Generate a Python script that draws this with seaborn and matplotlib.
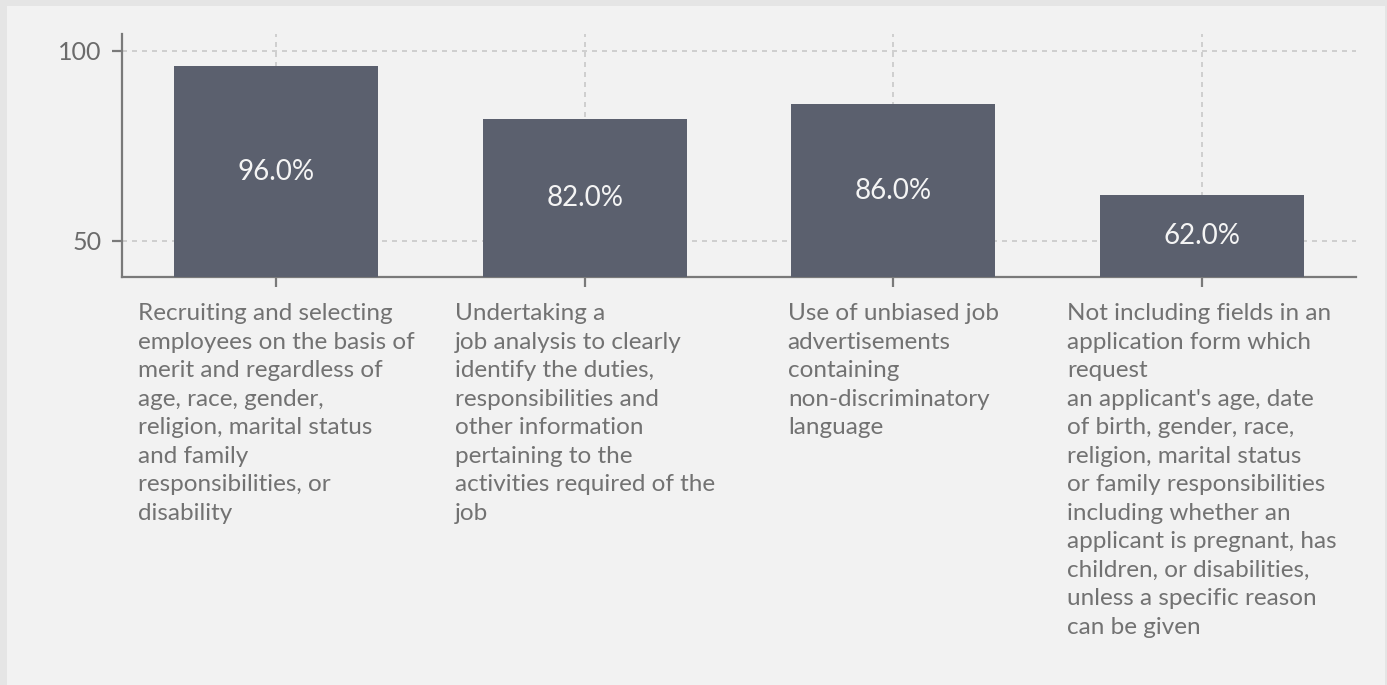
import numpy as np
import pandas as pd
import matplotlib.pyplot as plt
from matplotlib.patches import Rectangle
import seaborn as sns

categories = [
    "Recruiting and selecting\nemployees on the basis of\nmerit and regardless of\nage, race, gender,\nreligion, marital status\nand family\nresponsibilities, or\ndisability",
    "Undertaking a\njob analysis to clearly\nidentify the duties,\nresponsibilities and\nother information\npertaining to the\nactivities required of the\njob",
    "Use of unbiased job\nadvertisements\ncontaining\nnon-discriminatory\nlanguage",
    "Not including fields in an\napplication form which\nrequest\nan applicant's age, date\nof birth, gender, race,\nreligion, marital status\nor family responsibilities\nincluding whether an\napplicant is pregnant, has\nchildren, or disabilities,\nunless a specific reason\ncan be given",
]
values = [96.0, 82.0, 86.0, 62.0]
y_ticks = [50, 100]

df = pd.DataFrame({"practice": categories, "pct": values})

sns.set_style("white")
plt.rcParams['font.family'] = ['Lato', 'DejaVu Sans']

W, H = 1387, 685
fig = plt.figure(figsize=(W / 100, H / 100), dpi=100)
fig.patch.set_facecolor('#e5e5e5')
fig.patches.append(Rectangle((7 / W, 0), (1385 - 7) / W, 1 - 6 / H,
                             transform=fig.transFigure, facecolor='#f2f2f2',
                             edgecolor='none', zorder=-5))

ax = fig.add_axes([122 / W, 1 - 277 / H, (1356 - 122) / W, (277 - 34) / H])
ax.set_facecolor('none')
ax.set_zorder(2)

bar_color = '#5b606e'
sns.barplot(data=df, x="practice", y="pct", color=bar_color, saturation=1,
            width=0.66, linewidth=0, ax=ax, zorder=3)

ymin, ymax = 40.43, 104.48
ax.set_ylim(ymin, ymax)
ax.set_xlim(-0.5, len(values) - 0.5)

# labels centred in the visible part of each bar
for i, v in enumerate(values):
    ax.text(i, (ymin + v) / 2, f"{v:.1f}%", ha='center', va='center',
            color='#f4f4f4', fontsize=20, zorder=4)

ax.set_yticks(y_ticks)
ax.set_yticklabels([str(t) for t in y_ticks])
ax.grid(True, axis='both', linestyle=(0, (3, 3)), color='#c9c9c9', linewidth=1.2, zorder=0)
ax.set_axisbelow(True)

for s in ['top', 'right']:
    ax.spines[s].set_visible(False)
for s in ['left', 'bottom']:
    ax.spines[s].set_color('#7a7a7a')
    ax.spines[s].set_linewidth(1.6)

ax.tick_params(axis='y', length=7.5, width=1.6, color='#7a7a7a', pad=7,
               labelsize=18, labelcolor='#6b6b6b', direction='out', left=True)
ax.tick_params(axis='x', length=7.5, width=1.6, color='#7a7a7a', pad=11.5,
               labelsize=17.5, labelcolor='#727272', direction='out', bottom=True)
for t in ax.get_xticklabels():
    t.set_multialignment('left')
    t.set_linespacing(1.44)
    t.set_verticalalignment('top')

ax.set_xlabel("")
ax.set_ylabel("")

fig.savefig("out.png", dpi=100, facecolor=fig.get_facecolor())
